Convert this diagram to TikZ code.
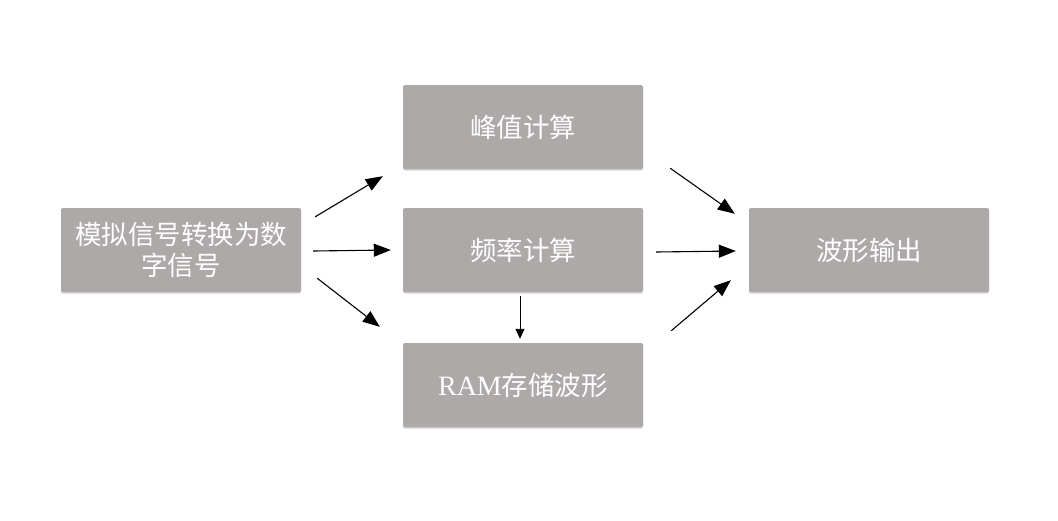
\documentclass[tikz,border=0pt]{standalone}
\usepackage{fontspec}
\setmainfont{Liberation Serif}
\newfontfamily\cjk{Noto Sans CJK SC}
\usetikzlibrary{arrows.meta,shadows}
\definecolor{boxgray}{RGB}{173,169,168}
\tikzset{>={Triangle[width=13pt,length=17pt]}}
\tikzset{
  stage/.style={
    draw=none, fill=boxgray, rounded corners=2pt,
    minimum width=240pt, minimum height=84pt, inner sep=0pt,
    text=white, align=center,
    font=\fontsize{26.5}{31}\selectfont\cjk,
    drop shadow={shadow xshift=0pt,shadow yshift=-1.5pt,opacity=.18,fill=black}
  },
  flow/.style={->,line width=1.1pt},
  small flow/.style={-{Triangle[width=9pt,length=10pt]},line width=0.9pt}
}
\begin{document}
\begin{tikzpicture}[x=1pt,y=1pt]
    \useasboundingbox[fill=white] (0,0) rectangle (1058,-520);
    \node[stage](adc) at (181,-250) {模拟信号转换为数\\字信号};
    \node[stage](peak) at (523,-127) {峰值计算};
    \node[stage](freq) at (523,-250) {频率计算};
    \node[stage](ram) at (523,-385) {{\rmfamily\fontsize{28}{31}\selectfont RAM}存储波形};
    \node[stage](out) at (869,-250) {波形输出};
    % from the converter
    \draw[flow] ([xshift=14pt,yshift=-9pt]adc.north east) -- ([xshift=-20pt,yshift=-7pt]peak.south west);
    \draw[flow] ([xshift=12pt,yshift=-1pt]adc.east) -- ([xshift=-12pt]freq.west);
    \draw[flow] ([xshift=16pt,yshift=14pt]adc.south east) -- ([xshift=-23pt,yshift=16pt]ram.north west);
    \draw[small flow] ([xshift=-3pt,yshift=-4pt]freq.south) -- ([xshift=-3pt,yshift=4pt]ram.north);
    % into the output
    \draw[flow] ([xshift=27pt,yshift=1pt]peak.south east) -- ([xshift=-14pt,yshift=-6pt]out.north west);
    \draw[flow] ([xshift=13pt,yshift=-2pt]freq.east) -- ([xshift=-13pt,yshift=-1pt]out.west);
    \draw[flow] ([xshift=28pt,yshift=12pt]ram.north east) -- ([xshift=-18pt,yshift=12pt]out.south west);
\end{tikzpicture}
\end{document}
